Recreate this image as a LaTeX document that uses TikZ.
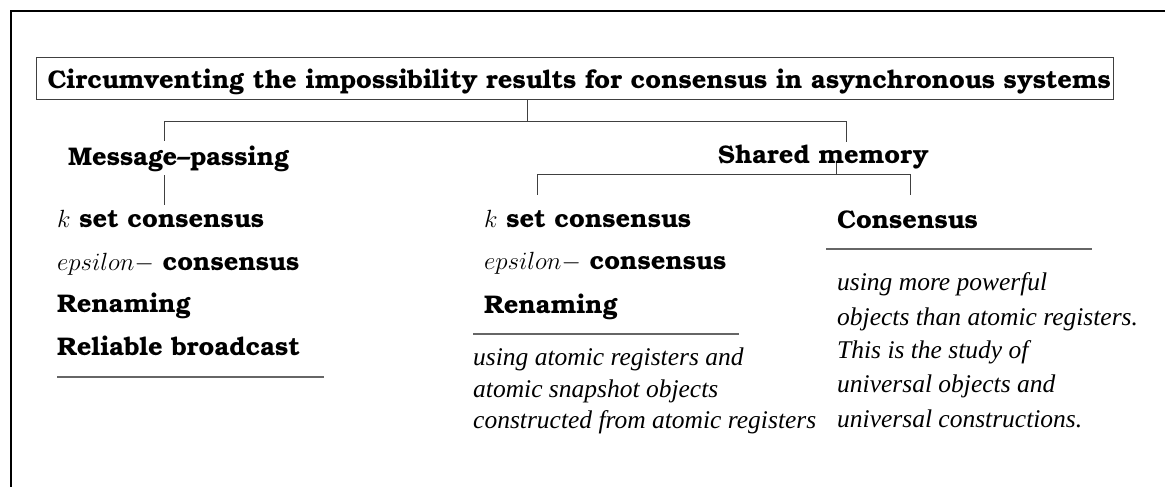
\documentclass[tikz,border=0pt]{standalone}
\usepackage{fontspec}
\setmainfont{Liberation Serif}
\newfontfamily\bk{TeX Gyre Bonum}[Ligatures=TeX]
\newcommand{\epsdash}{{\fontsize{23}{28}\selectfont$epsilon-$}}
\begin{document}
\begin{tikzpicture}[x=1pt,y=-1pt,
  bold/.style={font=\bk\bfseries\fontsize{25.5}{30}\selectfont, anchor=base west, inner sep=0pt},
  ital/.style={font=\itshape\fontsize{25.5}{30}\selectfont, anchor=base west, inner sep=0pt},
  conn/.style={draw=black!75, line width=1pt},
  rulel/.style={draw=black!60, line width=1.3pt},
  frame/.style={draw=black, line width=2.6pt}]
\useasboundingbox (0,0) rectangle (1165,487);
% frame
\coordinate (ftl) at (11,11);
\coordinate (ftr) at (1165,11);
\coordinate (fbl) at (11,487);
\draw[frame] (ftr) -- (ftl) -- (fbl);
% title
\node[draw=black!75, line width=1pt, inner sep=0pt, text height=31pt, text depth=11pt, anchor=north west,
      font=\bk\bfseries\fontsize{25.5}{30}\selectfont] (title) at (36,57)
  {\makebox[1077pt][l]{\hspace{11pt}Circumventing the impossibility results for consensus in asynchronous systems}};
% level 1 connectors
\coordinate (j1) at (527,121);
\coordinate (jl) at (164,121);
\coordinate (jr) at (846,121);
\coordinate (mpend) at (164,205);
\coordinate (smtop) at (846,142);
\draw[conn] (title.south -| j1) -- (j1);
\draw[conn] (jl) -- (jr);
\draw[conn] (jr) -- (smtop);
\draw[conn] (jl) -- (mpend);
% level 1 nodes
\node[bold, fill=white, inner xsep=0pt, inner ysep=4pt] (mp) at (68,165) {Message–passing};
\node[bold] (sm) at (718,163) {Shared memory};
% shared memory branches
\coordinate (s0) at (836,163);
\coordinate (s1) at (836,174);
\coordinate (sa) at (537,174);
\coordinate (sb) at (910,174);
\coordinate (sad) at (537,195);
\coordinate (sbd) at (910,195);
\draw[conn] (s0) -- (s1);
\draw[conn] (sa) -- (sb);
\draw[conn] (sa) -- (sad);
\draw[conn] (sb) -- (sbd);
% left column
\node[bold] (l1) at (57,227) {$k$ set consensus};
\node[bold] (l2) at (57,270) {\epsdash{} consensus};
\node[bold] (l3) at (57,312) {Renaming};
\node[bold] (l4) at (57,355) {Reliable broadcast};
\draw[rulel] (57,377) -- (324,377);
% middle column
\node[bold] (m1) at (484,227) {$k$ set consensus};
\node[bold] (m2) at (484,269) {\epsdash{} consensus};
\node[bold] (m3) at (484,313) {Renaming};
\draw[rulel] (473,334) -- (739,334);
\node[ital] (mt1) at (473,365) {using atomic registers and};
\node[ital] (mt2) at (473,397) {atomic snapshot objects};
\node[ital] (mt3) at (473,428) {constructed from atomic registers};
% right column
\node[bold] (r1) at (837,228) {Consensus};
\draw[rulel] (826,249) -- (1092,249);
\node[ital] (rt1) at (837,290) {using more powerful};
\node[ital] (rt2) at (837,325) {objects than atomic registers.};
\node[ital] (rt3) at (837,358) {This is the study of};
\node[ital] (rt4) at (837,392) {universal objects and};
\node[ital] (rt5) at (837,427) {universal constructions.};
\end{tikzpicture}
\end{document}
